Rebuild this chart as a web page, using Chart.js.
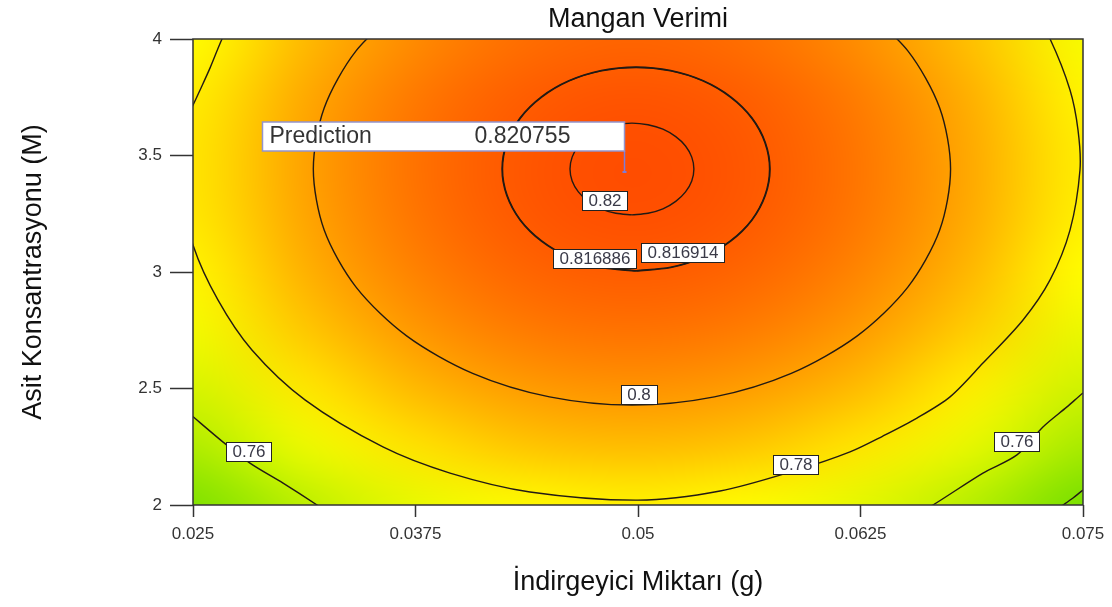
<!DOCTYPE html>
<html>
<head>
<meta charset="utf-8">
<title>Mangan Verimi</title>
<script src="https://cdn.jsdelivr.net/npm/chart.js@4.4.1/dist/chart.umd.min.js"></script>
<style>
  html, body { margin: 0; padding: 0; background: #fff; }
</style>
</head>
<body>
<canvas id="chart" width="1112" height="607"></canvas>
<script>
// Axis ticks
const xTicks = [0.025, 0.0375, 0.05, 0.0625, 0.075];
const xTickLabels = ['0.025', '0.0375', '0.05', '0.0625', '0.075'];
const yTicks = [2, 2.5, 3, 3.5, 4];
const yTickLabels = ['2', '2.5', '3', '3.5', '4'];

// Response surface (rows from y=4 down to y=2)
const gridX = [0.025, 0.03125, 0.0375, 0.04375, 0.05, 0.05625, 0.0625, 0.06875, 0.075];
const gridY = [4, 3.75, 3.5, 3.25, 3, 2.75, 2.5, 2.25, 2];
const surface = [
    [0.7750, 0.7925, 0.8049, 0.8122, 0.8145, 0.8117, 0.8038, 0.7908, 0.7728],
    [0.7794, 0.7969, 0.8093, 0.8166, 0.8189, 0.8161, 0.8082, 0.7952, 0.7772],
    [0.7812, 0.7987, 0.8111, 0.8184, 0.8207, 0.8179, 0.8100, 0.7970, 0.7790],
    [0.7805, 0.7980, 0.8104, 0.8177, 0.8200, 0.8172, 0.8093, 0.7963, 0.7783],
    [0.7773, 0.7948, 0.8072, 0.8145, 0.8168, 0.8140, 0.8061, 0.7931, 0.7751],
    [0.7716, 0.7891, 0.8015, 0.8088, 0.8111, 0.8083, 0.8004, 0.7874, 0.7694],
    [0.7633, 0.7808, 0.7932, 0.8005, 0.8028, 0.8000, 0.7921, 0.7791, 0.7611],
    [0.7525, 0.7700, 0.7824, 0.7897, 0.7920, 0.7892, 0.7813, 0.7683, 0.7503],
    [0.7391, 0.7566, 0.7690, 0.7763, 0.7786, 0.7758, 0.7679, 0.7549, 0.7369]
];

// Contour lines [x, y] (ends may run past the frame and get clipped)
const contour082 = [[0.04966,3.245],[0.05056,3.252],[0.05140,3.271],[0.05212,3.303],[0.05267,3.344],[0.05302,3.391],[0.05314,3.442],[0.05302,3.493],[0.05267,3.541],[0.05212,3.581],[0.05140,3.613],[0.05056,3.632],[0.04966,3.639],[0.04876,3.632],[0.04792,3.613],[0.04720,3.581],[0.04665,3.541],[0.04630,3.493],[0.04618,3.442],[0.04630,3.391],[0.04665,3.344],[0.04720,3.303],[0.04792,3.271],[0.04876,3.252],[0.04966,3.245]];
const contour0816886 = [[0.04989,3.004],[0.05184,3.019],[0.05366,3.063],[0.05521,3.132],[0.05641,3.223],[0.05716,3.329],[0.05742,3.442],[0.05716,3.555],[0.05641,3.661],[0.05521,3.752],[0.05366,3.821],[0.05184,3.865],[0.04989,3.880],[0.04794,3.865],[0.04612,3.821],[0.04457,3.752],[0.04337,3.661],[0.04262,3.555],[0.04236,3.442],[0.04262,3.329],[0.04337,3.223],[0.04457,3.132],[0.04612,3.063],[0.04794,3.019],[0.04989,3.004]];
const contour0816914 = [[0.04989,3.006],[0.05183,3.021],[0.05364,3.064],[0.05519,3.134],[0.05639,3.224],[0.05713,3.329],[0.05739,3.442],[0.05713,3.555],[0.05639,3.660],[0.05519,3.750],[0.05364,3.820],[0.05183,3.863],[0.04989,3.878],[0.04795,3.863],[0.04614,3.820],[0.04459,3.750],[0.04339,3.660],[0.04265,3.555],[0.04239,3.442],[0.04265,3.329],[0.04339,3.224],[0.04459,3.134],[0.04614,3.064],[0.04795,3.021],[0.04989,3.006]];
const contour08 = [[0.06232,4.158],[0.06516,3.949],[0.06695,3.704],[0.06756,3.442],[0.06695,3.180],[0.06516,2.935],[0.06232,2.726],[0.05861,2.565],[0.05429,2.464],[0.04966,2.429],[0.04503,2.464],[0.04071,2.565],[0.03700,2.726],[0.03416,2.935],[0.03237,3.180],[0.03176,3.442],[0.03237,3.704],[0.03416,3.949],[0.03700,4.158]];
const contour078a = [[0.02730,4.10],[0.02663,4.0],[0.02596,3.876],[0.02545,3.790],[0.02490,3.700]];
const contour078b = [[0.02460,3.300],[0.025,3.116],[0.02640,2.880],[0.02831,2.665],[0.03129,2.451],[0.03567,2.249],[0.03944,2.137],[0.04393,2.056],[0.05000,2.021],[0.05461,2.060],[0.05893,2.150],[0.06191,2.228],[0.06376,2.296],[0.06567,2.373],[0.06753,2.464],[0.06938,2.609],[0.07163,2.794],[0.07315,2.966],[0.07427,3.180],[0.07483,3.438],[0.07472,3.609],[0.07427,3.781],[0.07315,4.0],[0.07200,4.15]];
const contour076a = [[0.02480,2.392],[0.02669,2.270],[0.02820,2.180],[0.03006,2.094],[0.03197,2.0],[0.03290,1.95]];
const contour076b = [[0.06560,1.96],[0.06657,2.0],[0.06938,2.137],[0.07129,2.215],[0.07275,2.335],[0.07410,2.421],[0.075,2.481],[0.0755,2.51]];
const contour074 = [[0.07330,1.97],[0.07388,2.0],[0.07444,2.030],[0.075,2.064],[0.0755,2.09]];

// Contour labels
const labelText = ['0.82', '0.816886', '0.816914', '0.8', '0.78', '0.76', '0.76'];
const labelX = [0.04815, 0.04758, 0.05253, 0.05006, 0.05888, 0.02817, 0.07132];
const labelY = [3.309, 3.062, 3.084, 2.476, 2.176, 2.230, 2.275];

// Prediction flag
const predX = 0.0492;
const predY = 3.43;
const predValue = '0.820755';

const FONT = '"Liberation Sans", Arial, sans-serif';
Chart.defaults.font.family = FONT;

// green -> yellow -> red colour ramp
const ramp = [[0.71, [20, 200, 0]], [0.775, [255, 255, 0]], [0.84, [255, 0, 0]]];
function colorFor(v) {
    if (v <= ramp[0][0]) return ramp[0][1];
    for (let i = 1; i < ramp.length; i++) {
        if (v <= ramp[i][0]) {
            const t = (v - ramp[i - 1][0]) / (ramp[i][0] - ramp[i - 1][0]);
            const a = ramp[i - 1][1], b = ramp[i][1];
            return a.map((c, k) => Math.round(c + (b[k] - c) * t));
        }
    }
    return ramp[ramp.length - 1][1];
}

// Heat background from the surface grid
const heatPlugin = {
    id: 'heat',
    beforeDatasetsDraw(chart) {
        const { ctx, chartArea: a, scales: { x, y } } = chart;
        const img = document.createElement('canvas');
        img.width = gridX.length;
        img.height = gridY.length;
        const ictx = img.getContext('2d');
        const pix = ictx.createImageData(img.width, img.height);
        surface.forEach((row, j) => row.forEach((v, i) => {
            const c = colorFor(v);
            const k = (j * img.width + i) * 4;
            pix.data[k] = c[0]; pix.data[k + 1] = c[1]; pix.data[k + 2] = c[2]; pix.data[k + 3] = 255;
        }));
        ictx.putImageData(pix, 0, 0);
        const dx = x.getPixelForValue(gridX[1]) - x.getPixelForValue(gridX[0]);
        const dy = y.getPixelForValue(gridY[1]) - y.getPixelForValue(gridY[0]);
        ctx.save();
        ctx.beginPath();
        ctx.rect(a.left, a.top, a.width, a.height);
        ctx.clip();
        ctx.imageSmoothingEnabled = true;
        ctx.imageSmoothingQuality = 'high';
        ctx.drawImage(img, x.getPixelForValue(gridX[0]) - dx / 2, y.getPixelForValue(gridY[0]) - dy / 2,
            dx * gridX.length, dy * gridY.length);
        ctx.restore();
    }
};

// Frame, contour labels and the prediction flag
const overlayPlugin = {
    id: 'overlay',
    afterDatasetsDraw(chart) {
        const { ctx, chartArea: a, scales: { x, y } } = chart;
        ctx.save();
        ctx.strokeStyle = '#333';
        ctx.lineWidth = 1.5;
        ctx.strokeRect(a.left, a.top, a.width, a.height);

        ctx.font = '17px ' + FONT;
        ctx.textAlign = 'center';
        ctx.textBaseline = 'middle';
        labelText.forEach((t, i) => {
            const cx = Math.round(x.getPixelForValue(labelX[i]));
            const cy = Math.round(y.getPixelForValue(labelY[i]));
            const w = Math.round(ctx.measureText(t).width + 12), h = 19;
            const l = cx - Math.round(w / 2) + 0.5, tp = cy - 9 + 0.5;
            ctx.fillStyle = '#fff';
            ctx.fillRect(l, tp, w, h);
            ctx.strokeStyle = '#222';
            ctx.lineWidth = 1;
            ctx.strokeRect(l, tp, w, h);
            ctx.fillStyle = '#3a3a48';
            ctx.fillText(t, cx, cy + 1);
        });

        // prediction flag
        const px = Math.round(x.getPixelForValue(predX)) + 0.5;
        const py = Math.round(y.getPixelForValue(predY));
        const boxR = px, boxB = py - 21, boxT = boxB - 29, boxL = px - 362;
        ctx.strokeStyle = '#7c7cd8';
        ctx.lineWidth = 1.5;
        ctx.beginPath();
        ctx.moveTo(px, boxB);
        ctx.lineTo(px, py);
        ctx.stroke();
        ctx.fillStyle = '#7c7cd8';
        ctx.fillRect(px - 2, py - 1, 4, 2);
        ctx.fillStyle = '#fff';
        ctx.fillRect(boxL, boxT, boxR - boxL, boxB - boxT);
        ctx.strokeStyle = '#9494cc';
        ctx.strokeRect(boxL, boxT, boxR - boxL, boxB - boxT);
        ctx.font = '23px ' + FONT;
        ctx.fillStyle = '#333';
        ctx.textAlign = 'left';
        ctx.fillText('Prediction', boxL + 7, boxT + 15);
        ctx.fillText(predValue, boxR - 150, boxT + 15);
        ctx.restore();
    }
};

const lineStyle = {
    xAxisID: 'x', yAxisID: 'y', showLine: true, pointRadius: 0,
    borderColor: '#221a14', borderWidth: 1.4, tension: 0.3, capBezierPoints: false, fill: false
};
const contours = [contour082, contour0816886, contour0816914, contour08, contour078a, contour078b, contour076a, contour076b, contour074];

new Chart(document.getElementById('chart'), {
    type: 'scatter',
    data: {
        datasets: contours.map(c => ({ ...lineStyle, data: c.map(p => ({ x: p[0], y: p[1] })) }))
    },
    options: {
        responsive: false,
        animation: false,
        layout: { padding: { left: 0, right: 29, top: 0, bottom: 0 } },
        plugins: {
            legend: { display: false },
            tooltip: { enabled: false }
        },
        scales: {
            x: {
                type: 'linear', min: 0.025, max: 0.075,
                afterBuildTicks: s => { s.ticks = xTicks.map(v => ({ value: v })); },
                ticks: { callback: (v, i) => xTickLabels[i], font: { size: 17 }, color: '#333', padding: 7, maxRotation: 0, autoSkip: false },
                grid: { drawOnChartArea: false, tickLength: 12, tickColor: '#333', tickWidth: 1.5 },
                border: { display: false },
                title: { display: true, text: 'İndirgeyici Miktarı (g)', color: '#111', font: { size: 27 }, padding: { top: 0, bottom: 7.8 } },
                afterFit: s => { s.height = 102; s.paddingLeft = 0; s.paddingRight = 0; }
            },
            y: {
                type: 'linear', min: 2, max: 4,
                afterBuildTicks: s => { s.ticks = yTicks.map(v => ({ value: v })); },
                ticks: { callback: (v, i) => yTickLabels[i], font: { size: 17 }, color: '#333', padding: 8, autoSkip: false },
                grid: { drawOnChartArea: false, tickLength: 23, tickColor: '#333', tickWidth: 1.5 },
                border: { display: false },
                title: { display: true, text: 'Asit Konsantrasyonu (M)', color: '#111', font: { size: 27 }, padding: { top: 17.8, bottom: 0 } },
                afterFit: s => { s.width = 193; s.paddingTop = 0; s.paddingBottom = 0; }
            },
            // top axis only carries the chart title, centred over the plot
            top: {
                type: 'linear', axis: 'x', position: 'top', min: 0, max: 1,
                ticks: { display: false },
                grid: { display: false },
                border: { display: false },
                title: { display: true, text: 'Mangan Verimi', color: '#111', font: { size: 27 }, padding: { top: 3, bottom: 0 } },
                afterFit: s => { s.height = 39; s.paddingLeft = 0; s.paddingRight = 0; }
            }
        }
    },
    plugins: [heatPlugin, overlayPlugin]
});
</script>
</body>
</html>
